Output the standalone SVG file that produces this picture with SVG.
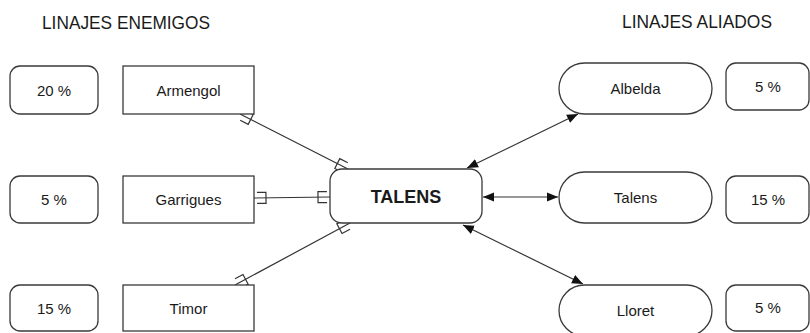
<svg xmlns="http://www.w3.org/2000/svg" width="810" height="333" viewBox="0 0 810 333">
  <style>
    .box{fill:#fff;stroke:#3a3a3a;stroke-width:1.3}
    .t{font-family:"Liberation Sans",Arial,sans-serif;font-size:15px;fill:#1a1a1a;text-anchor:middle}
    .h{font-family:"Liberation Sans",Arial,sans-serif;font-size:18px;fill:#1a1a1a}
    .b{font-weight:bold;font-size:18px}
    .c{fill:none;stroke:#333;stroke-width:1.2}
  </style>
  <defs>
    <marker id="crow" markerUnits="userSpaceOnUse" viewBox="-14 -7 14 14" refX="0" refY="0" markerWidth="14" markerHeight="14" orient="auto-start-reverse">
      <path d="M-3,-5.5 H-12 V5.5 H-3" fill="none" stroke="#333" stroke-width="1.2"/>
    </marker>
    <marker id="arr" markerUnits="userSpaceOnUse" viewBox="-11 -5 12 10" refX="0" refY="0" markerWidth="12" markerHeight="10" orient="auto-start-reverse">
      <path d="M0,0 L-11,-4.5 L-11,4.5 Z" fill="#111"/>
    </marker>
  </defs>
  <rect width="810" height="333" fill="#fff"/>

  <text class="h" x="42" y="29" textLength="168" lengthAdjust="spacingAndGlyphs">LINAJES ENEMIGOS</text>
  <text class="h" x="622" y="28" textLength="150" lengthAdjust="spacingAndGlyphs">LINAJES ALIADOS</text>

  <g id="connectors">
    <line class="c" x1="240" y1="114" x2="348" y2="169" marker-start="url(#crow)" marker-end="url(#crow)"/>
    <line class="c" x1="254" y1="198" x2="330" y2="197" marker-start="url(#crow)" marker-end="url(#crow)"/>
    <line class="c" x1="235" y1="285" x2="350" y2="223" marker-start="url(#crow)" marker-end="url(#crow)"/>
    <line class="c" x1="467" y1="168" x2="578" y2="114" marker-start="url(#arr)" marker-end="url(#arr)"/>
    <line class="c" x1="483" y1="197" x2="558" y2="197" marker-start="url(#arr)" marker-end="url(#arr)"/>
    <line class="c" x1="463" y1="225" x2="583" y2="284" marker-start="url(#arr)" marker-end="url(#arr)"/>
  </g>

  <g id="pct-armengol"><rect class="box" x="10" y="66" width="88" height="48" rx="10"/><text class="t" x="54" y="96">20 %</text></g>
  <g id="armengol"><rect class="box" x="123" y="66" width="131" height="48"/><text class="t" x="188.5" y="96">Armengol</text></g>
  <g id="pct-garrigues"><rect class="box" x="10" y="176" width="88" height="47" rx="10"/><text class="t" x="54" y="205">5 %</text></g>
  <g id="garrigues"><rect class="box" x="123" y="176" width="131" height="47"/><text class="t" x="188.5" y="205">Garrigues</text></g>
  <g id="pct-timor"><rect class="box" x="10" y="285" width="88" height="46" rx="10"/><text class="t" x="54" y="314">15 %</text></g>
  <g id="timor"><rect class="box" x="123" y="285" width="131" height="46"/><text class="t" x="188.5" y="314">Timor</text></g>

  <g id="talens-main"><rect class="box" x="330" y="169" width="152" height="54" rx="12"/><text class="t b" x="406" y="203">TALENS</text></g>

  <g id="albelda"><rect class="box" x="559" y="63" width="153" height="51" rx="25.5"/><text class="t" x="635.5" y="94">Albelda</text></g>
  <g id="pct-albelda"><rect class="box" x="726" y="63" width="83" height="47" rx="10"/><text class="t" x="768" y="92">5 %</text></g>
  <g id="talens"><rect class="box" x="559" y="172" width="153" height="51" rx="25.5"/><text class="t" x="635.5" y="203">Talens</text></g>
  <g id="pct-talens"><rect class="box" x="726" y="176" width="83" height="47" rx="10"/><text class="t" x="768" y="205">15 %</text></g>
  <g id="lloret"><rect class="box" x="559" y="285" width="153" height="51" rx="25.5"/><text class="t" x="635.5" y="316">Lloret</text></g>
  <g id="pct-lloret"><rect class="box" x="726" y="285" width="83" height="46" rx="10"/><text class="t" x="768" y="313">5 %</text></g>
</svg>
